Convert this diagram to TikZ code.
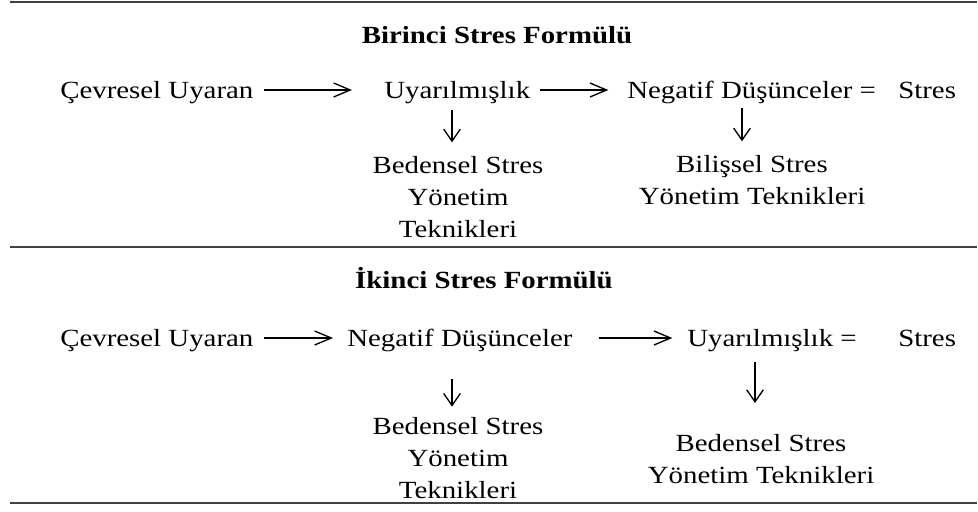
\documentclass[tikz,border=0pt]{standalone}
\usepackage{fontspec}
\setmainfont[FakeStretch=1.17]{Liberation Serif}
\usetikzlibrary{arrows.meta,calc}
\tikzset{
        txt/.style={inner sep=0pt, anchor=base west, font=\fontsize{18.5}{24}\selectfont},
        heading/.style={inner sep=0pt, anchor=base, font=\fontsize{18.5}{24}\selectfont\bfseries},
        stack/.style={inner sep=0pt, anchor=base, align=center, font=\fontsize{18.5}{24}\selectfont},
        hline/.style={draw=black!75, line width=1.4pt},
        harrow/.style={-{Straight Barb[length=12.5pt,width=10.5pt]}, line width=1pt},
        varrow/.style={-{Straight Barb[length=9pt,width=12.5pt]}, line width=1pt}
          }

\begin{document}
\begin{tikzpicture}[x=0.75pt,y=-0.75pt]
            \useasboundingbox (0,0) rectangle (978,511);
            \draw[hline] (10,2) -- (977,2);
            \draw[hline] (10,247) -- (977,247);
            \draw[hline] (10,503) -- (977,503);

            % first formula
            \node[heading] (title1) at (497,43) {Birinci Stres Formülü};
            \node[txt] (cevre1) at (60,98) {Çevresel Uyaran};
            \node[txt] (uyar1) at (384,98) {Uyarılmışlık};
            \node[txt] (neg1) at (627,98) {Negatif Düşünceler =};
            \node[txt] (stres1) at (898,98) {Stres};
            \node[stack] (beden1) at (458,237) {Bedensel Stres\\Yönetim\\Teknikleri};
            \node[stack] (bilis1) at (752,204) {Bilişsel Stres\\Yönetim Teknikleri};
            \draw[harrow, shorten <=7.5pt, shorten >=24pt] ($(cevre1.base east)+(0,-8)$) -- ($(uyar1.base west)+(0,-8)$);
            \draw[harrow, shorten <=7.5pt, shorten >=14pt] ($(uyar1.base east)+(0,-8)$) -- ($(neg1.base west)+(0,-8)$);
            \draw[varrow, shorten <=5pt, shorten >=10pt] ($(beden1.north |- uyar1.south)+(-6,0)$) -- ($(beden1.north)+(-6,0)$);
            \draw[varrow, shorten <=3.5pt, shorten >=10pt] ($(bilis1.north |- neg1.south)+(-10,0)$) -- ($(bilis1.north)+(-10,0)$);

            % second formula
            \node[heading] (title2) at (484,288) {İkinci Stres Formülü};
            \node[txt] (cevre2) at (60,346) {Çevresel Uyaran};
            \node[txt] (neg2) at (347,346) {Negatif Düşünceler};
            \node[txt] (uyar2) at (687,346) {Uyarılmışlık =};
            \node[txt] (stres2) at (898,346) {Stres};
            \node[stack] (beden2) at (458,498) {Bedensel Stres\\Yönetim\\Teknikleri};
            \node[stack] (beden3) at (761,483) {Bedensel Stres\\Yönetim Teknikleri};
            \draw[harrow, shorten <=7.5pt, shorten >=10.5pt] ($(cevre2.base east)+(0,-8)$) -- ($(neg2.base west)+(0,-8)$);
            \draw[harrow, shorten <=19.5pt, shorten >=11pt] ($(neg2.base east)+(0,-8)$) -- ($(uyar2.base west)+(0,-8)$);
            \draw[varrow, shorten <=20.5pt, shorten >=7.5pt] ($(beden2.north |- neg2.south)+(-6,0)$) -- ($(beden2.north)+(-6,0)$);
            \draw[varrow, shorten <=8pt, shorten >=23pt] ($(beden3.north |- uyar2.south)+(-6,0)$) -- ($(beden3.north)+(-6,0)$);
          \end{tikzpicture}
\end{document}
